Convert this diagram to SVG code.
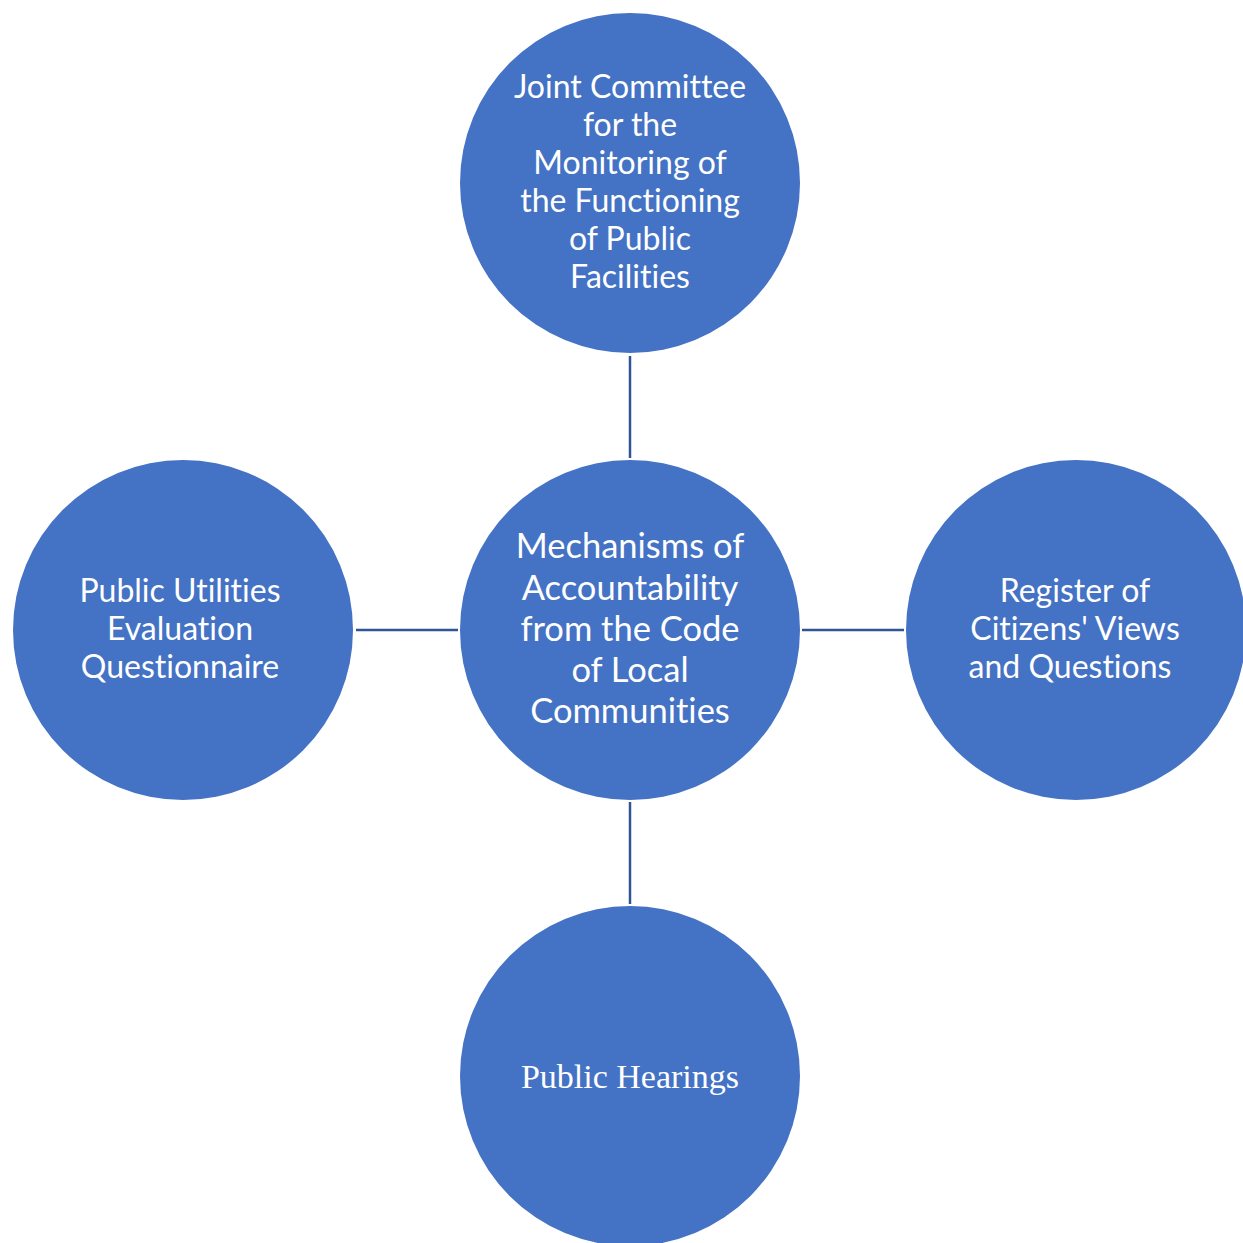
<svg xmlns="http://www.w3.org/2000/svg" width="1243" height="1243" viewBox="0 0 1243 1243">
<style>
.node{fill:#4472C4;}
.lbl{fill:#FFFFFF;font-family:Lato,"Noto Sans",sans-serif;font-size:32px;text-anchor:middle;font-variant-ligatures:none;}
.big{font-size:34.5px;}
.serif{font-family:"Liberation Serif",serif;font-size:34px;}
.conn{stroke:#2F5597;stroke-width:2.5;fill:none;}
</style>
<rect width="1243" height="1243" fill="#FFFFFF"/>
<g id="connectors">
<line class="conn" x1="630" y1="356" x2="630" y2="458"/>
<line class="conn" x1="356" y1="630" x2="458" y2="630"/>
<line class="conn" x1="802" y1="630" x2="904" y2="630"/>
<line class="conn" x1="630" y1="802" x2="630" y2="904"/>
</g>
<g id="center">
<circle class="node" cx="630" cy="630" r="170"/>
<text class="lbl big"><tspan x="630" y="558">Mechanisms of</tspan><tspan x="630" y="600">Accountability</tspan><tspan x="630" y="641">from the Code</tspan><tspan x="630" y="682">of Local</tspan><tspan x="630" y="723">Communities</tspan></text>
</g>
<g id="top">
<circle class="node" cx="630" cy="183" r="170"/>
<text class="lbl"><tspan x="630" y="98">Joint Committee</tspan><tspan x="630" y="136">for the</tspan><tspan x="630" y="174">Monitoring of</tspan><tspan x="630" y="212">the Functioning</tspan><tspan x="630" y="250">of Public</tspan><tspan x="630" y="288">Facilities</tspan></text>
</g>
<g id="left">
<circle class="node" cx="183" cy="630" r="170"/>
<text class="lbl"><tspan x="180" y="602">Public Utilities</tspan><tspan x="180" y="640">Evaluation</tspan><tspan x="180" y="678">Questionnaire</tspan></text>
</g>
<g id="right">
<circle class="node" cx="1076" cy="630" r="170"/>
<text class="lbl"><tspan x="1075" y="602">Register of</tspan><tspan x="1075" y="640">Citizens' Views</tspan><tspan x="1070" y="678">and Questions</tspan></text>
</g>
<g id="bottom">
<circle class="node" cx="630" cy="1076" r="170"/>
<text class="lbl serif" x="630" y="1088">Public Hearings</text>
</g>
</svg>
